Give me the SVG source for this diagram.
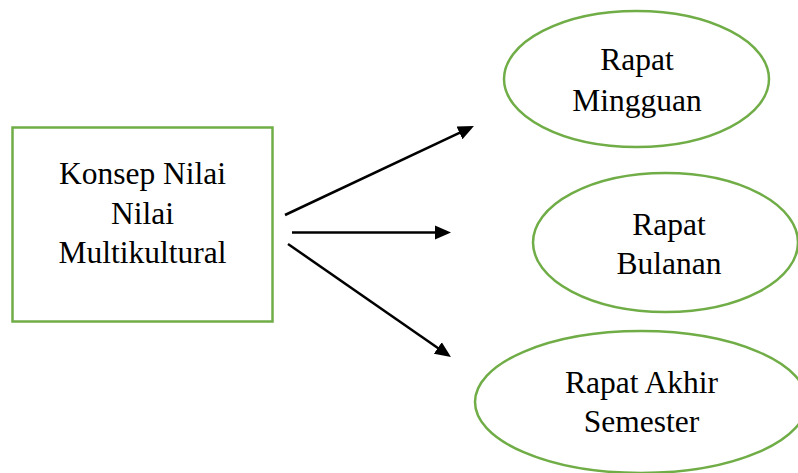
<svg xmlns="http://www.w3.org/2000/svg" width="798" height="473" viewBox="0 0 798 473">
  <style>
    .node { fill: #ffffff; stroke: #70AD47; stroke-width: 2.5; }
    .lbl { font-family: "Liberation Serif", "Times New Roman", serif; font-size: 31.5px; fill: #000000; text-anchor: middle; }
    .conn { stroke: #000000; stroke-width: 2.5; fill: none; marker-end: url(#arrow); }
  </style>
  <defs>
    <marker id="arrow" markerUnits="userSpaceOnUse" markerWidth="18" markerHeight="16" viewBox="0 -8 18 16" refX="4" refY="0" orient="auto">
      <path d="M0,-7 L16,0 L0,7 Z" fill="#000000"/>
    </marker>
  </defs>
  <rect width="798" height="473" fill="#ffffff"/>

  <g id="konsep">
    <rect class="node" x="12.5" y="127.5" width="260" height="194"/>
    <text class="lbl" x="142.5" y="184">Konsep Nilai</text>
    <text class="lbl" x="142.5" y="224">Nilai</text>
    <text class="lbl" x="142.5" y="263">Multikultural</text>
  </g>

  <g id="mingguan">
    <ellipse class="node" cx="636.5" cy="79" rx="132.5" ry="68"/>
    <text class="lbl" x="637" y="70">Rapat</text>
    <text class="lbl" x="637" y="111">Mingguan</text>
  </g>

  <g id="bulanan">
    <ellipse class="node" cx="665.5" cy="242.5" rx="132.5" ry="69.5"/>
    <text class="lbl" x="669" y="235">Rapat</text>
    <text class="lbl" x="669" y="274">Bulanan</text>
  </g>

  <g id="akhir-semester">
    <ellipse class="node" cx="641" cy="402" rx="166" ry="71"/>
    <text class="lbl" x="641.5" y="393">Rapat Akhir</text>
    <text class="lbl" x="641.5" y="432">Semester</text>
  </g>

  <g id="connectors">
    <line class="conn" x1="285" y1="215" x2="463.1" y2="131.1"/>
    <line class="conn" x1="292" y1="232.5" x2="439" y2="232.5"/>
    <line class="conn" x1="288" y1="244" x2="441.1" y2="350.2"/>
  </g>
</svg>
